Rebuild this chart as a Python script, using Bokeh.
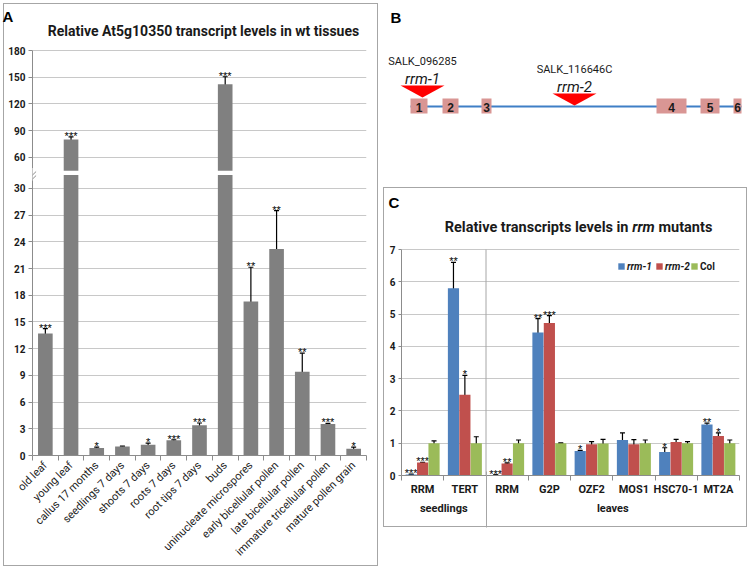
import math
from bokeh.plotting import figure
from bokeh.models import (FixedTicker, Range1d, ColumnDataSource, Whisker, TeeHead,
                          Arrow, Legend, LegendItem, LinearAxis, Title)
from bokeh.layouts import row, column
from bokeh.embed import file_html
from bokeh.resources import INLINE
from bokeh.core.properties import value

FONT = "Roboto"
SANS = "Liberation Sans"
TXT = "#1a1a1a"
AXIS = "#8c8c8c"
GRID = "#c8c8c8"
BOXLINE = "#a6a6a6"

# ---------------- Panel A data ----------------
tissues = ["old leaf", "young leaf", "callus 17 months", "seedlings 7 days",
           "shoots 7 days", "roots 7 days", "root tips 7 days", "buds",
           "uninucleate microspores", "early bicellular pollen",
           "late bicellular pollen", "immature tricellular pollen",
           "mature pollen grain"]
levels = [13.7, 80.0, 0.85, 1.0, 1.2, 1.7, 3.4, 142.0, 17.3, 23.2, 9.4, 3.55, 0.75]
level_err = [0.55, 3.0, 0.08, 0.05, 0.2, 0.07, 0.25, 8.5, 3.85, 4.3, 2.1, 0.07, 0.2]
level_sig = ["***", "***", "*", "", "*", "***", "***", "***", "**", "**", "**", "***", "*"]
yticks_low = [0, 3, 6, 9, 12, 15, 18, 21, 24, 27, 30]
yticks_high = [60, 90, 120, 150, 180]
title_A = "Relative At5g10350 transcript levels in wt tissues"

# broken axis: 0..30 linear, 60..180 compressed 10x
BREAK_LOW, BREAK_HIGH, HIGH_BASE, HIGH_SCALE = 30, 60, 33.5, 10.0
BAR_CUT_LO, BAR_CUT_HI = 31.5, 32.0


def vt(y):
    return y if y <= 45 else HIGH_BASE + (y - BREAK_HIGH) / HIGH_SCALE


# ---------------- Panel B data ----------------
exon_start = [410, 442, 481, 656, 700, 733]
exon_end = [427, 458, 491, 686, 719, 741]
exon_names = ["1", "2", "3", "4", "5", "6"]
insert_pos = [422, 574]
insert_tip = [97, 105]
allele = ["rrm-1", "rrm-2"]
salk_line = ["SALK_096285", "SALK_116646C"]

# ---------------- Panel C data ----------------
genes = ["RRM", "TERT", "RRM", "G2P", "OZF2", "MOS1", "HSC70-1", "MT2A"]
groups = ["seedlings", "leaves"]
group_sizes = [2, 6]
rrm1 = [0.03, 5.80, 0.015, 4.43, 0.76, 1.10, 0.73, 1.58]
rrm1_err = [0.01, 0.80, 0.005, 0.43, 0.02, 0.22, 0.13, 0.04]
rrm1_sig = ["***", "**", "***", "**", "*", "", "*", "**"]
rrm2 = [0.40, 2.50, 0.37, 4.72, 0.97, 0.97, 1.04, 1.22]
rrm2_err = [0.01, 0.60, 0.02, 0.23, 0.08, 0.14, 0.08, 0.10]
rrm2_sig = ["***", "*", "**", "***", "", "", "", "*"]
col = [1.00, 1.00, 1.00, 1.00, 0.99, 1.00, 1.00, 1.00]
col_err = [0.07, 0.20, 0.10, 0.01, 0.13, 0.10, 0.05, 0.10]
series_names = ["rrm-1", "rrm-2", "Col"]
series_colors = ["#4f81bd", "#c0504d", "#9bbb59"]
title_C = ["Relative transcripts levels in", "rrm", "mutants"]


def letter_title(text, offset):
    return Title(text=text, align="left", offset=offset, standoff=0, vertical_align="bottom",
                 text_font=SANS, text_font_style="bold", text_font_size="15px",
                 text_color="black")


def style_axis(ax, size, bold):
    ax.axis_line_color = AXIS
    ax.major_tick_line_color = AXIS
    ax.minor_tick_line_color = AXIS
    ax.major_label_text_font = FONT
    ax.major_label_text_font_size = size
    ax.major_label_text_font_style = "bold" if bold else "normal"
    ax.major_label_text_color = TXT


# =============== Panel A figure ===============
nA = len(tissues)
A_W, A_H = 381, 569
A_L, A_R, A_T, A_B = 32, 366, 50, 455          # plot area (px); A_T = level of 180
A_FT = 24                                      # frame top (title text lives inside frame)
yA_end = vt(180) * (A_B - A_FT) / (A_B - A_T)
pA = figure(width=A_W, height=A_H, x_range=Range1d(0, nA), y_range=Range1d(0, yA_end),
            output_backend="svg", toolbar_location=None,
            min_border_left=A_L, min_border_right=A_W - A_R, min_border_top=A_FT,
            min_border_bottom=A_H - A_B)
pA.frame_align = False
pA.styles = {"outline": "1px solid " + BOXLINE, "outline-offset": "-4px"}
pA.border_fill_color = None
pA.background_fill_color = None
pA.outline_line_color = None
pA.xgrid.visible = False
pA.ygrid.grid_line_color = GRID
pA.add_layout(letter_title("A", 7 - A_L - 5), "above")


def a_xy(px, py):
    return ((px - A_L) * nA / (A_R - A_L), (A_B - py) * vt(180) / (A_B - A_T))


xA = [i + 0.5 for i in range(nA)]
style_axis(pA.xaxis[0], "11px", False)
pA.xaxis.ticker = FixedTicker(ticks=xA, minor_ticks=list(range(nA + 1)))
pA.xaxis.major_label_overrides = {x: t for x, t in zip(xA, tissues)}
pA.xaxis.major_label_orientation = math.pi / 4
pA.xaxis.major_tick_out = 0
pA.xaxis.major_tick_in = 0
pA.xaxis.minor_tick_out = 5
pA.xaxis.minor_tick_in = 0
pA.xaxis.major_label_standoff = 3

yt = yticks_low + yticks_high
style_axis(pA.yaxis[0], "10px", True)
pA.yaxis.ticker = FixedTicker(ticks=[vt(t) for t in yt], minor_ticks=[])
pA.yaxis.major_label_overrides = {vt(t): str(t) for t in yt}
pA.yaxis.bounds = (0, vt(180))
pA.yaxis.major_tick_out = 4
pA.yaxis.major_tick_in = 0
pA.yaxis.major_label_standoff = 3

low_top = [min(vt(v), BAR_CUT_LO) if v > BREAK_LOW else vt(v) for v in levels]
pA.vbar(x=xA, width=0.57, bottom=0, top=low_top, fill_color="#808080", line_color=None)
hi_x = [x for x, v in zip(xA, levels) if v > BREAK_LOW]
hi_top = [vt(v) for v in levels if v > BREAK_LOW]
pA.vbar(x=hi_x, width=0.57, bottom=BAR_CUT_HI, top=hi_top, fill_color="#808080", line_color=None)

srcA = ColumnDataSource(dict(x=xA, up=[vt(v + e) for v, e in zip(levels, level_err)],
                             lo=[vt(v - e) for v, e in zip(levels, level_err)], sig=level_sig))
pA.add_layout(Whisker(base="x", upper="up", lower="lo", source=srcA, line_color="black",
                      line_width=1.2,
                      upper_head=TeeHead(size=5, line_color="black", line_width=1.2),
                      lower_head=TeeHead(size=5, line_color="black", line_width=1.2)))
pA.text(x="x", y="up", text="sig", source=srcA, text_align="center",
        text_baseline="alphabetic", y_offset=-1, text_font=value(SANS),
        text_font_size="11px", text_color="black")

# axis-break marks
pA.add_layout(Arrow(end=None, x_start=0, y_start=30.9, x_end=0, y_end=32.3,
                    line_color="white", line_width=3))
for dy in (0.0, 0.45):
    pA.add_layout(Arrow(end=None, x_start=-0.2, y_start=30.95 - dy, x_end=0.14, y_end=31.9 - dy,
                        line_color=AXIS, line_width=1))

tx, ty = a_xy(203, 30)
pA.text(x=[tx], y=[ty], text=[title_A], text_align="center", text_baseline="middle",
        text_font=value(FONT), text_font_style="bold", text_font_size="14px", text_color=TXT)

# =============== Panel B figure ===============
B_X0, B_W, B_H = 381, 368, 185
pB = figure(width=B_W, height=B_H, x_range=Range1d(B_X0, B_X0 + B_W), y_range=Range1d(B_H, 0),
            x_axis_type=None, y_axis_type=None, min_border=0, output_backend="svg",
            toolbar_location=None)
pB.frame_align = False
pB.outline_line_color = None
pB.grid.visible = False
pB.segment(x0=[exon_start[0]], y0=[106], x1=[exon_end[-1]], y1=[106],
           line_color="#3f7fc6", line_width=2)
pB.quad(left=exon_start, right=exon_end, top=98, bottom=113, fill_color="#d99694", line_color=None)
pB.text(x=[(a + b) / 2 for a, b in zip(exon_start, exon_end)], y=106.5, text=exon_names,
        text_align="center", text_baseline="middle", text_font=value(SANS),
        text_font_style="bold", text_font_size="12px", text_color=TXT)
pB.patches(xs=[[p - 22, p + 22, p] for p in insert_pos],
           ys=[[t - 12, t - 12, t] for t in insert_tip], fill_color="#ff0000", line_color=None)
pB.text(x=insert_pos, y=[t - 19 for t in insert_tip], text=allele, text_align="center",
        text_baseline="middle", text_font=value(FONT), text_font_style="italic",
        text_font_size="15px", text_color=TXT)
pB.text(x=insert_pos, y=[t - 36 for t in insert_tip], text=salk_line, text_align="center",
        text_baseline="middle", text_font=value(FONT), text_font_size="11px", text_color=TXT)
pB.text(x=[390], y=[17], text=["B"], text_align="left", text_baseline="middle",
        text_font=value(SANS), text_font_style="bold", text_font_size="15px", text_color="black")

# =============== Panel C figure ===============
nC = len(genes)
C_W, C_H, C_Y0 = 368, 344, 185
C_L, C_R, C_T, C_B = 401, 739, 249, 475       # plot area (page px); C_T = level of 7
C_FT = 210                                    # frame top
yC_end = 7 * (C_B - C_FT) / (C_B - C_T)
pC = figure(width=C_W, height=C_H, x_range=Range1d(0, nC), y_range=Range1d(0, yC_end),
            output_backend="svg", toolbar_location=None,
            min_border_left=C_L - B_X0, min_border_right=B_X0 + C_W - C_R,
            min_border_top=C_FT - C_Y0, min_border_bottom=C_Y0 + C_H - C_B)
pC.frame_align = False
pC.styles = {"outline": "1px solid " + BOXLINE, "outline-offset": "-3px"}
pC.border_fill_color = None
pC.background_fill_color = None
pC.outline_line_color = None
pC.xgrid.visible = False
pC.ygrid.grid_line_color = GRID
pC.add_layout(letter_title("C", 393 - C_L - 5), "above")


def c_xy(px, py):
    return ((px - C_L) * nC / (C_R - C_L), (C_B - py) * 7 / (C_B - C_T))


xC = [i + 0.5 for i in range(nC)]
style_axis(pC.xaxis[0], "11px", True)
pC.xaxis.ticker = FixedTicker(ticks=xC, minor_ticks=list(range(nC + 1)))
pC.xaxis.major_label_overrides = {x: g for x, g in zip(xC, genes)}
pC.xaxis.major_tick_out = 0
pC.xaxis.major_tick_in = 0
pC.xaxis.minor_tick_out = 5
pC.xaxis.minor_tick_in = 0
pC.xaxis.major_label_standoff = 2
style_axis(pC.yaxis[0], "10px", True)
pC.yaxis.ticker = FixedTicker(ticks=list(range(8)), minor_ticks=[])
pC.yaxis.bounds = (0, 7)
pC.yaxis.major_tick_out = 3
pC.yaxis.major_tick_in = 0
pC.yaxis.major_label_standoff = 3

# tissue-group axis under the gene axis
sep_x = group_sizes[0]
grp_centers = [sum(group_sizes[:i]) + n / 2 for i, n in enumerate(group_sizes)]
grp_axis = LinearAxis(ticker=FixedTicker(ticks=grp_centers, minor_ticks=[]),
                      major_label_overrides={c: g for c, g in zip(grp_centers, groups)},
                      major_tick_in=0, major_tick_out=0, major_label_standoff=3)
style_axis(grp_axis, "11px", True)
grp_axis.axis_line_color = None
grp_axis.major_tick_line_color = None
pC.add_layout(grp_axis, "below")
# bottom-most axis carrying only the long group-separator tick
sep_axis = LinearAxis(ticker=FixedTicker(ticks=[], minor_ticks=[sep_x]),
                      axis_line_color=None, major_tick_line_color=None,
                      minor_tick_line_color=BOXLINE, minor_tick_in=46, minor_tick_out=10,
                      major_tick_in=0, major_tick_out=0, major_label_standoff=0)
pC.add_layout(sep_axis, "below")
pC.segment(x0=[sep_x], y0=[0], x1=[sep_x], y1=[7], line_color=BOXLINE, line_width=1)

bw = 0.27
renderers = []
for k, (vals, errs, sigs, color) in enumerate(zip([rrm1, rrm2, col], [rrm1_err, rrm2_err, col_err],
                                                  [rrm1_sig, rrm2_sig, ["" for _ in col]],
                                                  series_colors)):
    xs = [x + (k - 1) * bw for x in xC]
    src = ColumnDataSource(dict(x=xs, top=vals, up=[v + e for v, e in zip(vals, errs)],
                                lo=[v - e for v, e in zip(vals, errs)], sig=sigs))
    r = pC.vbar(x="x", top="top", bottom=0, width=bw * 0.98, source=src,
                fill_color=color, line_color=None)
    renderers.append(r)
    pC.add_layout(Whisker(base="x", upper="up", lower="lo", source=src, line_color="black",
                          line_width=1.2,
                          upper_head=TeeHead(size=5, line_color="black", line_width=1.2),
                          lower_head=TeeHead(size=5, line_color="black", line_width=1.2)))
    pC.text(x="x", y="up", text="sig", source=src, text_align="center",
            text_baseline="alphabetic", y_offset=-1, text_font=value(SANS),
            text_font_size="11px", text_color="black")

leg_kw = dict(orientation="horizontal", label_text_font=FONT, label_text_font_size="10px",
              label_text_color=TXT, glyph_width=8, glyph_height=8, label_height=12,
              label_standoff=2, spacing=3, padding=0, margin=0, border_line_color=None,
              background_fill_alpha=0)
leg1 = Legend(items=[LegendItem(label=series_names[0], renderers=[renderers[0]]),
                     LegendItem(label=series_names[1], renderers=[renderers[1]])],
              location=(617 - C_L, C_B - 272), label_text_font_style="bold italic", **leg_kw)
leg2 = Legend(items=[LegendItem(label=series_names[2], renderers=[renderers[2]])],
              location=(690 - C_L, C_B - 272), label_text_font_style="bold", **leg_kw)
pC.add_layout(leg1)
pC.add_layout(leg2)

ty_c = c_xy(0, 227)[1]
pC.text(x=[c_xy(628, 0)[0], c_xy(643, 0)[0], c_xy(658, 0)[0]], y=[ty_c] * 3, text=title_C,
        text_align=["right", "center", "left"],
        text_font_style=["bold", "bold italic", "bold"], text_baseline="middle",
        text_font=value(FONT), text_font_size="14.5px", text_color=TXT)

layout = row(pA, column(pB, pC, spacing=0), spacing=0)
open("out.html", "w").write(file_html(layout, INLINE))
